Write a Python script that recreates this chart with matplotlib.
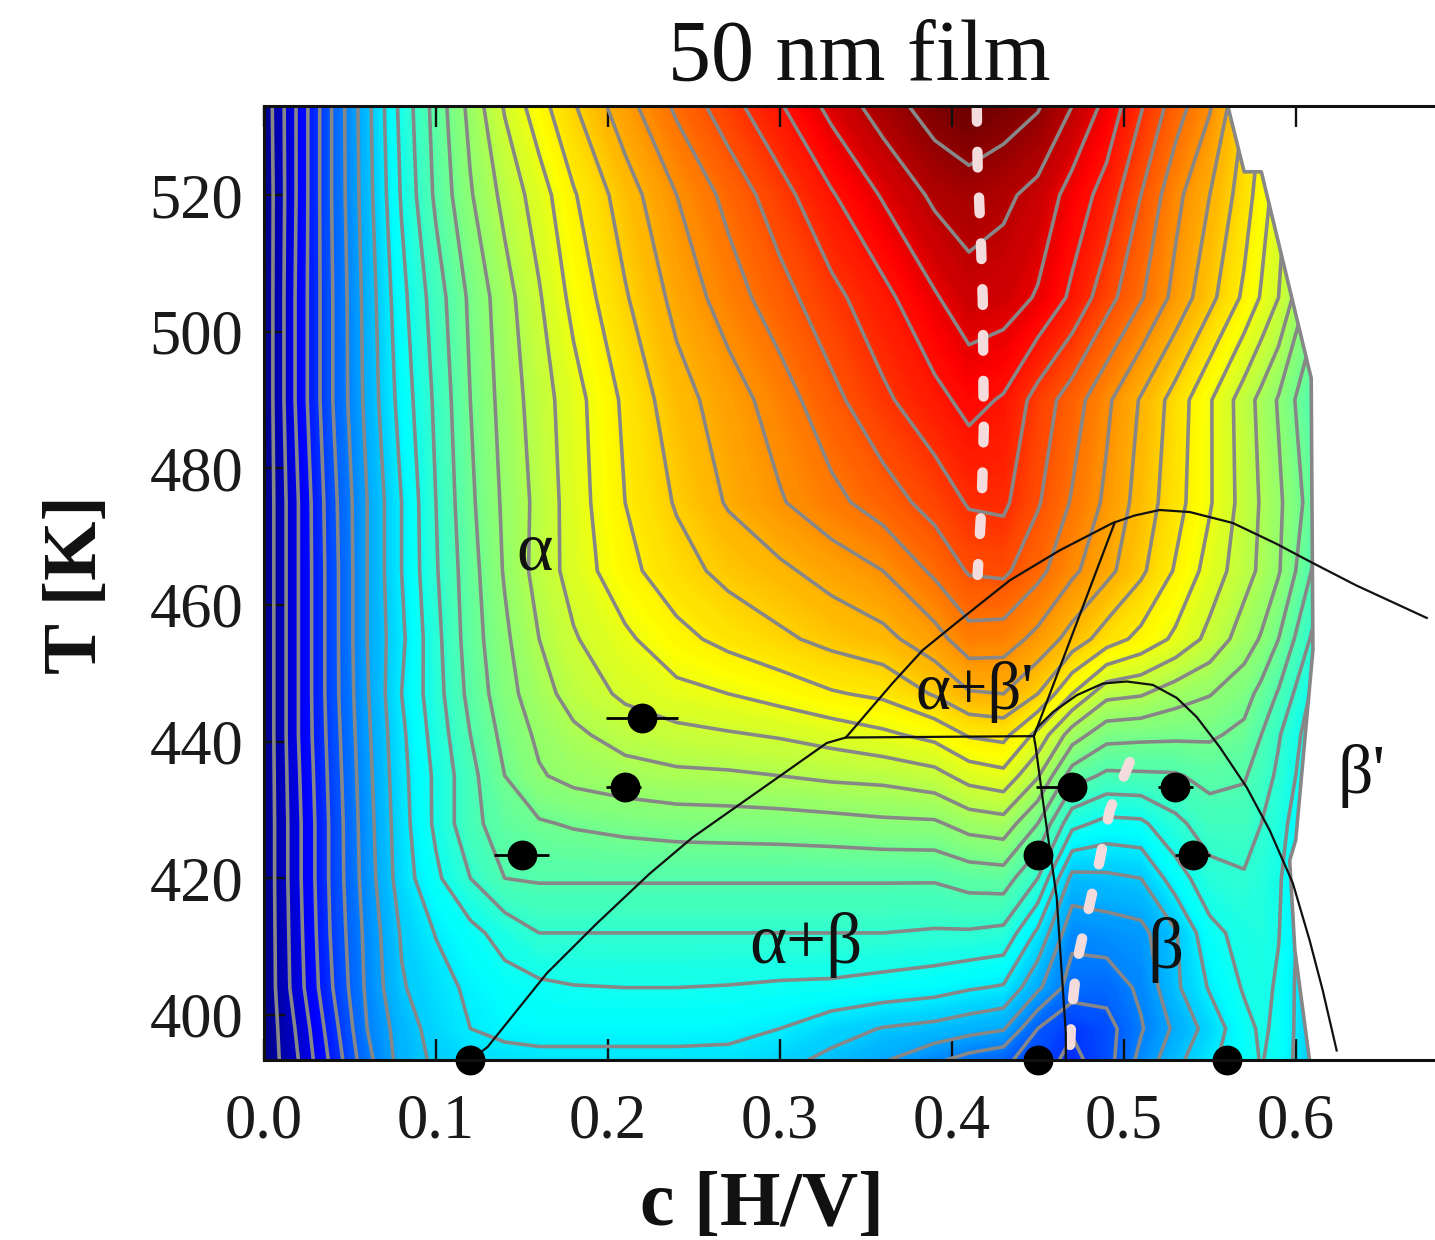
import numpy as np
import matplotlib
matplotlib.use("Agg")
import matplotlib.pyplot as plt
from matplotlib.colors import LinearSegmentedColormap
from matplotlib.patches import Polygon

plt.rcParams['font.family'] = ['Liberation Serif', 'DejaVu Serif']

# composition grid [H/V]
c_grid = [0.0, 0.02, 0.04, 0.06, 0.08, 0.10, 0.12, 0.14, 0.16, 0.18, 0.21, 0.24, 0.27, 0.30,
          0.33, 0.36, 0.39, 0.41, 0.43, 0.45, 0.47, 0.49, 0.51, 0.53, 0.55, 0.57, 0.58, 0.59, 0.61]
# temperature grid [K], top to bottom
T_grid = [533.03, 520, 505, 490, 475, 465, 455, 447, 441, 435, 428, 420, 412, 404, 398, 393.4]
# contour-level value, one row per temperature
z_533 = [0.3, 3.2, 6.1, 8.7, 11.3, 13.4, 15.3, 17.1, 18.6, 19.9, 21.6, 23.2, 24.6, 25.9, 27.3, 28.5, 29.5, 30.0, 29.6, 29.1, 28.0, 26.7, 25.1, 23.5, 22.1, 20, 19, 18, 16]
z_520 = [0.2, 3.2, 6.1, 8.6, 11.1, 13.2, 14.9, 16.3, 17.5, 18.9, 20.5, 22.0, 23.3, 24.6, 25.9, 27.1, 28.2, 28.5, 28.2, 27.7, 26.6, 25.6, 24.0, 22.3, 21.0, 19.5, 18.5, 17.5, 15]
z_505 = [0.2, 3.3, 6.0, 8.4, 10.7, 12.5, 14.2, 15.6, 16.9, 18.3, 19.9, 21.3, 22.5, 23.6, 24.7, 25.7, 26.9, 27.6, 27.5, 26.9, 25.8, 24.4, 23.1, 21.7, 20.3, 18.8, 17.9, 17, 14.5]
z_490 = [0.2, 3.3, 6.0, 8.3, 10.4, 12.2, 14.0, 15.4, 16.5, 17.6, 19.2, 20.6, 21.5, 22.5, 23.7, 24.8, 25.7, 26.3, 25.9, 24.6, 23.5, 22.2, 20.9, 19.6, 18.1, 16.5, 15.7, 14.9, 13]
z_475 = [0.2, 3.0, 5.7, 8.0, 10.0, 12.0, 13.8, 15.2, 16.3, 17.5, 19.0, 20.1, 21.1, 21.9, 22.7, 23.5, 24.4, 25.1, 25.2, 24.1, 22.9, 21.8, 20.6, 19.4, 18.1, 16.6, 15.9, 15.2, 13.5]
z_465 = [0.2, 3.0, 5.6, 8.0, 10.0, 11.9, 13.6, 15.1, 16.4, 17.4, 18.7, 19.6, 20.3, 20.8, 21.4, 22.0, 23.2, 24.1, 24.2, 23.3, 22.2, 21.3, 20.2, 18.9, 17.6, 16.4, 15.8, 15.1, 12.9]
z_455 = [0.2, 3.0, 5.6, 8.0, 9.8, 11.7, 13.5, 14.8, 16.0, 16.9, 17.8, 18.7, 19.3, 19.8, 20.3, 20.7, 21.6, 22.6, 22.5, 21.7, 20.6, 19.5, 18.7, 17.8, 16.7, 15.5, 14.9, 14.0, 11.8]
z_447 = [0.2, 3.0, 5.6, 7.9, 10.0, 11.6, 13.3, 14.6, 15.6, 16.4, 17.2, 17.7, 18.0, 18.4, 18.9, 19.2, 20.1, 20.9, 21.0, 20.0, 18.0, 16.3, 16.1, 15.45, 15.05, 14.4, 13.7, 12.9, 10.8]
z_441 = [0.2, 3.0, 5.5, 7.8, 9.8, 11.4, 13.0, 14.3, 15.2, 15.8, 16.4, 16.7, 16.9, 17.1, 17.4, 17.8, 18.3, 19.1, 19.3, 17.7, 15.5, 14.35, 14.25, 14.2, 14.15, 13.75, 13.0, 12.1, 10.4]
z_435 = [0.2, 2.9, 5.4, 7.7, 9.7, 11.2, 12.7, 14.0, 14.9, 15.3, 15.6, 15.8, 15.85, 16.0, 16.2, 16.3, 16.65, 17.4, 17.7, 16.1, 13.5, 12.8, 12.85, 12.9, 13.3, 13.1, 12.5, 11.8, 10.2]
z_428 = [0.2, 2.8, 5.3, 7.6, 9.6, 11.2, 12.7, 13.5, 13.9, 14.1, 14.3, 14.45, 14.5, 14.55, 14.65, 14.8, 14.85, 15.4, 15.6, 14.0, 11.3, 10.7, 10.8, 11.75, 12.5, 12.5, 12.0, 11.5, 9.6]
z_420 = [0.2, 2.8, 5.3, 7.5, 9.5, 10.8, 12.0, 13.0, 13.1, 13.1, 13.1, 13.1, 13.1, 13.1, 13.1, 13.1, 13.1, 13.4, 13.5, 12.0, 8.7, 8.8, 9.0, 10.5, 11.65, 11.9, 11.6, 11.2, 8.8]
z_412 = [0.2, 2.7, 5.2, 7.3, 9.1, 10.05, 10.7, 11.4, 12.0, 12.0, 12.0, 12.0, 12.0, 12.0, 12.0, 12.0, 11.9, 11.9, 11.75, 9.8, 7.3, 7.5, 7.7, 8.9, 10.7, 11.35, 11.5, 11.05, 9]
z_404 = [0.2, 2.6, 5.0, 7.2, 8.9, 9.6, 10.2, 10.6, 10.8, 10.95, 11.0, 11.0, 10.95, 10.85, 10.8, 10.6, 10.4, 10.1, 9.9, 8.2, 6.5, 6.4, 7.2, 8.8, 10.1, 11.1, 11.3, 10.85, 9]
z_398 = [0.2, 2.2, 4.6, 7.0, 8.5, 9.4, 10.0, 10.3, 10.4, 10.4, 10.4, 10.4, 10.3, 10.0, 9.4, 8.95, 8.7, 8.4, 8.1, 6.0, 5.1, 5.6, 6.9, 8.2, 9.4, 10.7, 11.15, 10.8, 9]
z_393 = [0.2, 2.0, 4.3, 6.7, 8.4, 9.2, 9.5, 9.6, 9.7, 9.7, 9.7, 9.7, 9.7, 9.3, 8.75, 8.1, 7.2, 6.6, 6.2, 5.5, 4.7, 5.6, 7.3, 8.7, 9.8, 10.65, 11.05, 10.7, 9]
z_rows = [z_533, z_520, z_505, z_490, z_475, z_465, z_455, z_447, z_441, z_435, z_428, z_420, z_412, z_404, z_398, z_393]

# right edge of the measured region
edge_c = [0.5605, 0.570, 0.580, 0.609, 0.610, 0.600, 0.5965, 0.5995, 0.608]
edge_T = [533.03, 523.4, 523.4, 493.2, 453.4, 425.6, 422.6, 409.5, 393.4]

# phase-diagram lines
alpha_c = [0.120, 0.130, 0.1645, 0.1936, 0.2244, 0.2494, 0.2884, 0.3273, 0.3384, 0.3657, 0.3831, 0.4047, 0.4337, 0.4628, 0.4936, 0.5064, 0.5209, 0.5384, 0.5634, 0.5884, 0.6087, 0.6349, 0.6762]
alpha_T = [393.4, 395.3, 406.1, 413.4, 420.7, 426.0, 432.9, 439.8, 440.6, 448.6, 453.4, 457.8, 463.6, 468.0, 472.0, 473.1, 473.9, 473.6, 472.0, 469.0, 466.3, 462.9, 458.1]
tie_c = [0.3384, 0.4477, 0.4948]
tie_T = [440.6, 440.8, 472.1]
betap_c = [0.4477, 0.4494, 0.4587, 0.4727, 0.4878, 0.5017, 0.5169, 0.5308, 0.5424, 0.5558, 0.5715, 0.5849, 0.5983, 0.6081, 0.6157, 0.6238]
betap_T = [440.8, 442.0, 444.3, 446.8, 448.5, 448.8, 448.3, 446.4, 443.6, 439.2, 433.3, 427.0, 419.3, 410.9, 403.6, 394.8]
beta_c = [0.4477, 0.4488, 0.4535, 0.4610, 0.4663, 0.4663]
beta_T = [440.8, 439.2, 430.4, 417.2, 397.3, 393.4]

# dashed ridge lines
ridge1_c = [0.4145, 0.415, 0.417, 0.418, 0.4186, 0.4174, 0.415]
ridge1_T = [533.03, 524.4, 512.7, 504.6, 485.6, 475.3, 464.4]
ridge2_c = [0.5035, 0.4919, 0.486, 0.480, 0.473, 0.4698, 0.4686]
ridge2_T = [437.0, 430.0, 422.6, 416.0, 408.0, 400.7, 394.8]

# measured points with horizontal error bars
pt_c = [0.12, 0.45, 0.56, 0.22, 0.21, 0.15, 0.47, 0.53, 0.45, 0.54]
pt_T = [393.4, 393.4, 393.4, 443.4, 433.3, 423.4, 433.3, 433.3, 423.4, 423.4]
pt_err_lo = [0, 0, 0, 0.021, 0.011, 0.016, 0.021, 0.010, 0, 0.010]
pt_err_hi = [0, 0, 0, 0.021, 0.009, 0.016, 0.005, 0.010, 0, 0.010]

xticks = [0.0, 0.1, 0.2, 0.3, 0.4, 0.5, 0.6]
yticks = [400, 420, 440, 460, 480, 500, 520]
contour_levels = list(range(1, 30))

W, H = 1435, 1240
fig = plt.figure(figsize=(W / 100, H / 100), dpi=100)
ax = fig.add_axes([264 / W, (H - 1060) / H, (W - 264) / W, 954 / H])
ax.set_xlim(0, 0.681)
ax.set_ylim(393.4, 533.03)

cmap = LinearSegmentedColormap.from_list('film', [
    (0 / 30, (0, 0, 0.5)), (3.5 / 30, (0, 0, 1)), (10.5 / 30, (0, 1, 1)),
    (14.5 / 30, (0.5, 1, 0.5)), (18.5 / 30, (1, 1, 0)), (23 / 30, (1, 0.45, 0)),
    (26.5 / 30, (1, 0, 0)), (28.5 / 30, (0.65, 0, 0)), (30 / 30, (0.42, 0, 0))])

Z = np.array(z_rows)[::-1]
Tg = np.array(T_grid)[::-1]
Cg = np.array(c_grid)

fine = np.arange(-0.5, 31, 0.1)
cf = ax.contourf(Cg, Tg, Z, levels=fine, cmap=cmap, vmin=0, vmax=30, antialiased=False, zorder=1)
cl = ax.contour(Cg, Tg, Z, levels=contour_levels, colors='#878787', linewidths=2.6, zorder=2)

clip_xy = list(zip([0] + edge_c + [0], [533.03] + edge_T + [393.4]))
clip = Polygon(clip_xy, closed=True, transform=ax.transData)
cf.set_clip_path(clip)
cl.set_clip_path(clip)
ax.plot(edge_c, edge_T, color='#878787', lw=2.6, zorder=3)

for xs, ys in [(ridge1_c, ridge1_T), (ridge2_c, ridge2_T)]:
    ax.plot(xs, ys, color='#f4dcdc', lw=7.5, dashes=(1.5, 2.9), dash_capstyle='round', zorder=4)

for xs, ys in [(alpha_c, alpha_T), (tie_c, tie_T), (betap_c, betap_T), (beta_c, beta_T)]:
    ax.plot(xs, ys, color='#111111', lw=1.6, zorder=5, solid_joinstyle='round')

ax.errorbar(pt_c, pt_T, xerr=[pt_err_lo, pt_err_hi], fmt='o', color='black', ms=21.5,
            mew=0, elinewidth=2, capsize=0, zorder=6, clip_on=False)
for art in ax.containers[-1].get_children():
    art.set_clip_on(False)

ax.set_xticks(xticks)
ax.set_yticks(yticks)
ax.set_xticklabels([f'{v:.1f}' for v in xticks])
ax.tick_params(axis='both', direction='in', length=15, width=1.7, labelsize=45, color='#111111', labelcolor='#1a1a1a')
ax.tick_params(axis='x', top=True, pad=24)
ax.tick_params(axis='y', pad=15)
for side in ['top', 'bottom', 'left']:
    ax.spines[side].set_linewidth(2.2)
    ax.spines[side].set_color('#111111')
    ax.spines[side].set_zorder(7)
ax.spines['right'].set_visible(False)

for txt, x, y, fs in [('α', 0.1576, 467.7, 50), ("α+β'", 0.4134, 447.2, 48), ('α+β', 0.315, 410.2, 51),
                      ('β', 0.524, 409.5, 51), ("β'", 0.638, 435.0, 50)]:
    ax.text(x, y, txt, fontsize=fs, ha='center', va='center', color='#111111', zorder=6)

fig.text(859 / W, 1 - 80 / H, '50 nm film', fontsize=62, ha='center', va='baseline', color='#111111')
fig.text(762 / W, 1 - 1225 / H, 'c [H/V]', fontsize=56, fontweight='bold', ha='center', va='baseline', color='#111111')
fig.text(78 / W, 1 - 585 / H, 'T [K]', fontsize=55, fontweight='bold', rotation=90, ha='center', va='center', color='#111111')

fig.savefig('out.png', dpi=100, facecolor='white')
